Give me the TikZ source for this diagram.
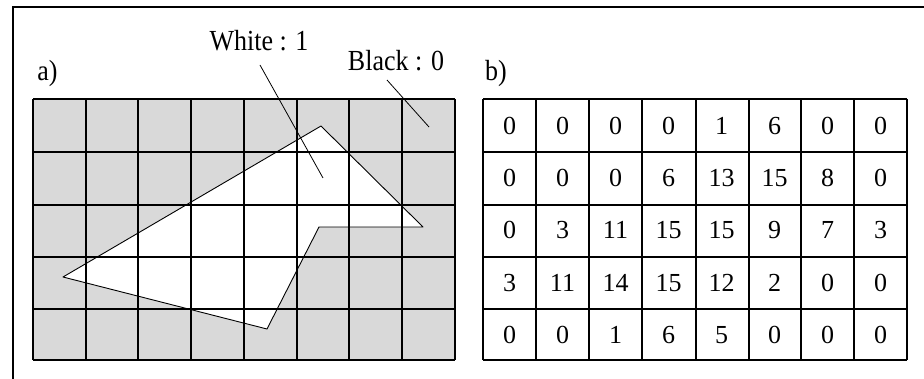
\documentclass[tikz,border=0pt]{standalone}
\usepackage{fontspec}
\setmainfont{Liberation Serif}
\usetikzlibrary{calc}
\colorlet{cellGray}{black!15}
\newcommand{\tall}[1]{\scalebox{1}[1.12]{#1}}

\begin{document}
\begin{tikzpicture}[x=1pt, y=-1pt, line width=1.2pt,
    lbl/.style={font=\fontsize{26}{30}\selectfont, inner sep=2pt, anchor=base},
    num/.style={font=\fontsize{26}{30}\selectfont}]
  \useasboundingbox (0,0) rectangle (924,379);
  % frame
  \draw[line width=1.3pt] (13,379) -- (13,7) -- (924,7);

  % a) the binary picture
  \node[lbl] (capA) at (47.5,81) {\tall{a)}};
  \coordinate (p1) at (321,126);
  \coordinate (p2) at (423,227);
  \coordinate (p3) at (319,227);
  \coordinate (p4) at (267,329);
  \coordinate (p5) at (63,277);
  \fill[cellGray] (33,99) rectangle (455,360);
  \fill[white] (p1) -- (p2) -- (p3) -- (p4) -- (p5) -- cycle;
  \foreach \x in {33,86,138,191,244,297,349,402,455}
    \draw (\x,99) -- (\x,360);
  \foreach \y in {99,152,205,257,309,360}
    \draw (33,\y) -- (455,\y);
  \draw[line width=0.9pt, line join=round]
    (p1) -- (p2) -- (p3) -- (p4) -- (p5) -- cycle;
  \node[lbl] (white) at (259,51) {\tall{White : 1}};
  \node[lbl] (black) at (396,71) {\tall{Black : 0}};
  \coordinate (whitept) at (323,178);
  \coordinate (blackpt) at (429,127);
  \draw[line width=0.8pt] ($(white.base)+(1,14)$) -- (whitept);
  \draw[line width=0.8pt] ($(black.base)+(-9,9)$) -- (blackpt);

  % b) the counts per cell
  \node[lbl] (capB) at (496,81) {\tall{b)}};
  \foreach \x in {483,536,589,642,696,749,801,854,907}
    \draw (\x,99) -- (\x,360);
  \foreach \y in {99,152,205,257,309,360}
    \draw (483,\y) -- (907,\y);
  \foreach \row [count=\j from 0] in {{0,0,0,0,1,6,0,0},{0,0,0,6,13,15,8,0},
      {0,3,11,15,15,9,7,3},{3,11,14,15,12,2,0,0},{0,0,1,6,5,0,0,0}}
    \foreach \v [count=\i from 0] in \row
      \node[num] (c\j\i) at (509.5+53*\i,126+52.2*\j) {\v};
\end{tikzpicture}
\end{document}
